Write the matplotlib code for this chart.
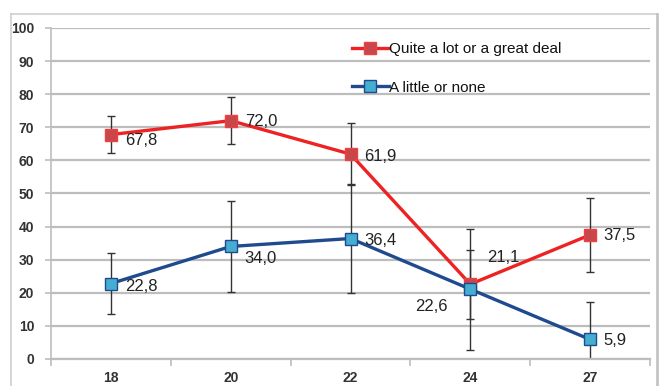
import matplotlib
matplotlib.use("Agg")
import matplotlib.pyplot as plt
from matplotlib.lines import Line2D

plt.rcParams['font.family'] = ['Liberation Sans', 'DejaVu Sans']

# Data
ages = ["18", "20", "22", "24", "27"]
great_deal = [67.8, 72.0, 61.9, 22.6, 37.5]
great_deal_err = [5.5, 7.1, 9.3, 10.4, 11.2]
little_none = [22.8, 34.0, 36.4, 21.1, 5.9]
little_none_err = [9.2, 13.7, 16.4, 18.3, 11.2]
series_names = ["Quite a lot or a great deal", "A little or none"]
y_ticks = [0, 10, 20, 30, 40, 50, 60, 70, 80, 90, 100]

# value label offsets in pixels (dx, dy) and horizontal alignment
red_label_pos = [(14, -6, 'left'), (14, -1, 'left'), (14, -2, 'left'),
                 (-23, -22, 'right'), (13, -1, 'left')]
blue_label_pos = [(14, -3, 'left'), (14, -12, 'left'), (14, -2, 'left'),
                  (17, 32, 'left'), (13, -1, 'left')]

W, H = 665, 386
fig = plt.figure(figsize=(W / 100, H / 100), dpi=100)
ax = fig.add_axes([51 / W, 1 - 359 / H, (650 - 51) / W, (359 - 28) / H])

x = list(range(len(ages)))
grid_c = '#bdbdbd'
red_line, red_face = '#ee2222', '#c8474a'
blue_line, blue_face = '#1f4b8e', '#45aed0'

ax.errorbar(x, great_deal, yerr=great_deal_err, fmt='none', ecolor='#333333',
            elinewidth=1, capsize=3.2, capthick=1, zorder=2)
ax.errorbar(x, little_none, yerr=little_none_err, fmt='none', ecolor='#333333',
            elinewidth=1, capsize=3.2, capthick=1, zorder=2)

ax.plot(x, great_deal, color=red_line, lw=2.4, marker='s', ms=8.5,
        mfc=red_face, mec='#f04040', mew=1, zorder=3, label=series_names[0])
ax.plot(x, little_none, color=blue_line, lw=2.4, marker='s', ms=8.5,
        mfc=blue_face, mec=blue_line, mew=1, zorder=4, label=series_names[1])

for vals, pos in ((great_deal, red_label_pos), (little_none, blue_label_pos)):
    for i, (v, (dx, dy, ha)) in enumerate(zip(vals, pos)):
        ax.annotate(f"{v:.1f}".replace('.', ','), (i, v),
                    xytext=(dx, dy), textcoords='offset pixels',
                    ha=ha, va='center', fontsize=12, color='#222222', zorder=5)

ax.set_xlim(-0.5, len(ages) - 0.5)
ax.set_ylim(0, 100)
ax.set_yticks(y_ticks)
ax.set_yticklabels([str(t) for t in y_ticks])
ax.yaxis.grid(True, color=grid_c, lw=1.6)
ax.set_axisbelow(True)

ax.set_xticks(x)
ax.set_xticklabels(ages)
ax.set_xticks([i + 0.5 for i in range(-1, len(ages))], minor=True)
ax.tick_params(axis='x', which='major', length=0, pad=9)
ax.tick_params(axis='x', which='minor', length=5, color=grid_c, width=1.2)
ax.tick_params(axis='y', length=4, color=grid_c, width=1.2, pad=8)
for lab in ax.get_xticklabels() + ax.get_yticklabels():
    lab.set_fontsize(10)
    lab.set_fontweight('bold')
    lab.set_color('#333333')

for s in ('top', 'right'):
    ax.spines[s].set_visible(False)
ax.spines['left'].set_color(grid_c)
ax.spines['bottom'].set_color(grid_c)
ax.spines['left'].set_linewidth(1.2)
ax.spines['bottom'].set_linewidth(1.6)

leg = ax.legend(loc='upper left', bbox_to_anchor=(0.49, 0.98), frameon=False,
                borderpad=0, handlelength=2.4, handletextpad=0.0,
                labelspacing=1.6, prop={'family': ['Liberation Sans Narrow', 'Liberation Sans'], 'size': 11})
for t in leg.get_texts():
    t.set_color('#111111')

# outer chart frame
frame_c = '#cfcfcf'
fig.add_artist(Line2D([11 / W, 11 / W], [0, 1 - 14 / H], color=frame_c, lw=1.2))
fig.add_artist(Line2D([11 / W, 657 / W], [1 - 14 / H, 1 - 14 / H], color=frame_c, lw=1.2))
fig.add_artist(Line2D([657 / W, 657 / W], [0, 1 - 14 / H], color='#c4c4c4', lw=2))

fig.savefig('out.png', dpi=100)
